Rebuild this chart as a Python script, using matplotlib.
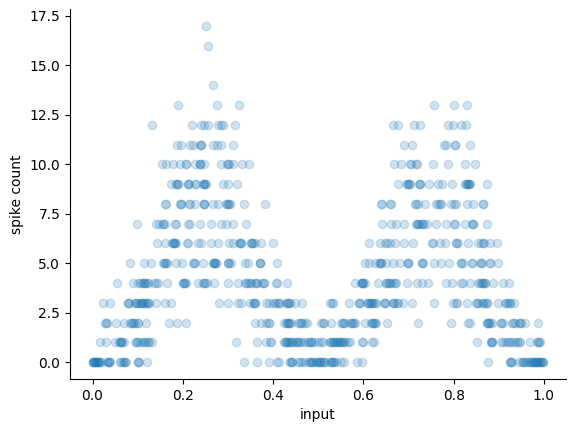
import matplotlib
matplotlib.use("Agg")
import matplotlib.pyplot as plt

# Stimulus values grouped by the spike count each trial produced
count_0 = [0.0, 0.001, 0.004, 0.007, 0.010, 0.013, 0.016, 0.019, 0.034, 0.036, 0.038, 0.060, 0.067, 0.070, 0.075, 0.101, 0.104, 0.121,
           0.000, 0.003, 0.006, 0.009, 0.012, 0.015, 0.032, 0.036, 0.064, 0.072, 0.100,
           0.335, 0.364, 0.391, 0.409, 0.413, 0.437, 0.443, 0.463, 0.481, 0.485, 0.489, 0.503, 0.507, 0.511, 0.515, 0.529, 0.533, 0.551, 0.558, 0.585, 0.596,
           0.438, 0.442, 0.455, 0.460, 0.470, 0.480, 0.487, 0.495, 0.500, 0.498, 0.505, 0.512, 0.525, 0.530, 0.535, 0.540,
           0.877, 0.925, 0.928, 0.951, 0.954, 0.965, 0.973, 0.977, 0.980, 0.984, 0.988, 0.992, 0.995, 0.999,
           0.925, 0.930, 0.945, 0.955, 0.960, 0.968, 0.972, 0.975, 0.980, 0.985, 0.990, 0.993, 0.997]
count_1 = [0.016, 0.029, 0.049, 0.060, 0.063, 0.066, 0.095, 0.099, 0.112, 0.123, 0.132,
           0.058, 0.062, 0.070, 0.098, 0.105, 0.115, 0.118, 0.125,
           0.318, 0.364, 0.385, 0.393, 0.396, 0.426, 0.429, 0.433, 0.441, 0.452, 0.463, 0.481, 0.485, 0.500,
           0.425, 0.430, 0.435, 0.440, 0.445, 0.450, 0.455, 0.460, 0.470, 0.478, 0.483, 0.490,
           0.507, 0.511, 0.525, 0.533, 0.536, 0.540, 0.544, 0.548, 0.555, 0.570, 0.596, 0.599, 0.623,
           0.525, 0.530, 0.540, 0.545, 0.550, 0.555, 0.560, 0.565, 0.620,
           0.852, 0.882, 0.886, 0.906, 0.917, 0.925, 0.936, 0.947, 0.969, 0.987, 0.991,
           0.882, 0.885, 0.910, 0.920, 0.930, 0.940, 0.945, 0.985, 0.990]
count_2 = [0.027, 0.032, 0.052, 0.069, 0.082, 0.089, 0.101, 0.119, 0.169, 0.187, 0.208,
           0.030, 0.085, 0.090, 0.095, 0.100,
           0.361, 0.374, 0.385, 0.392, 0.429, 0.432, 0.435, 0.459, 0.462, 0.470, 0.507,
           0.390, 0.425, 0.430, 0.436, 0.440, 0.455, 0.465, 0.475,
           0.511, 0.529, 0.551, 0.555, 0.574, 0.581, 0.603, 0.618, 0.621, 0.625, 0.653, 0.721,
           0.512, 0.555, 0.560, 0.570, 0.575, 0.580, 0.620, 0.623, 0.628,
           0.795, 0.832, 0.836, 0.873, 0.876, 0.880, 0.906, 0.932, 0.947, 0.958, 0.987,
           0.873, 0.878, 0.885, 0.905, 0.910, 0.930, 0.935, 0.945, 0.950]
count_3 = [0.023, 0.039, 0.078, 0.093, 0.101, 0.108, 0.115, 0.123, 0.141, 0.160, 0.174,
           0.078, 0.080, 0.095, 0.098, 0.105, 0.110, 0.112, 0.118, 0.120, 0.125,
           0.280, 0.300, 0.322, 0.330, 0.348, 0.359, 0.385, 0.400, 0.411, 0.430, 0.437, 0.448, 0.465,
           0.355, 0.357, 0.360, 0.428, 0.432, 0.435, 0.390, 0.405, 0.410, 0.415,
           0.527, 0.533, 0.569, 0.591, 0.611, 0.615, 0.622, 0.629, 0.647, 0.666, 0.677, 0.688, 0.707, 0.757,
           0.530, 0.590, 0.593, 0.608, 0.613, 0.618, 0.620, 0.625, 0.648, 0.645, 0.665, 0.668, 0.675,
           0.799, 0.808, 0.829, 0.851, 0.862, 0.874, 0.899, 0.914, 0.925, 0.934,
           0.805, 0.850, 0.855, 0.865, 0.870, 0.875, 0.915, 0.920, 0.925]
count_4 = [0.055, 0.089, 0.101, 0.113, 0.117, 0.123, 0.137, 0.145, 0.165, 0.200, 0.205,
           0.105, 0.110, 0.115, 0.120, 0.140, 0.200, 0.203, 0.207,
           0.234, 0.248, 0.254, 0.268, 0.300, 0.322, 0.341, 0.348, 0.363, 0.379, 0.407, 0.431,
           0.250, 0.245, 0.338, 0.345, 0.350, 0.360, 0.365, 0.375, 0.380, 0.408,
           0.582, 0.596, 0.599, 0.603, 0.633, 0.650, 0.659, 0.670, 0.696, 0.718, 0.729, 0.744,
           0.595, 0.598, 0.600, 0.650, 0.655, 0.660, 0.665, 0.672,
           0.783, 0.796, 0.817, 0.836, 0.858, 0.865, 0.869, 0.888, 0.909, 0.923,
           0.820, 0.855, 0.860, 0.865, 0.870]
count_5 = [0.083, 0.115, 0.130, 0.156, 0.163, 0.184, 0.199, 0.224, 0.245, 0.267, 0.270, 0.273, 0.300, 0.307, 0.337, 0.344, 0.370, 0.409,
           0.158, 0.160, 0.165, 0.222, 0.226, 0.268, 0.270, 0.274, 0.300, 0.303, 0.370, 0.372,
           0.603, 0.613, 0.625, 0.636, 0.639, 0.651, 0.666, 0.681, 0.699, 0.729, 0.733, 0.756,
           0.634, 0.638, 0.698, 0.700, 0.730,
           0.771, 0.789, 0.817, 0.840, 0.860, 0.880, 0.899,
           0.816, 0.820, 0.840, 0.858, 0.862, 0.880]
count_6 = [0.143, 0.160, 0.175, 0.180, 0.182, 0.211, 0.233, 0.241, 0.263, 0.278, 0.302, 0.311, 0.326, 0.329, 0.352, 0.355, 0.359, 0.374, 0.400,
           0.178, 0.180, 0.184, 0.210, 0.325, 0.328, 0.350, 0.353,
           0.613, 0.636, 0.647, 0.659, 0.670, 0.690, 0.709, 0.751, 0.755, 0.769, 0.781, 0.806, 0.810, 0.832, 0.854, 0.865, 0.880, 0.895,
           0.653, 0.806, 0.860, 0.868]
count_7 = [0.098, 0.141, 0.147, 0.155, 0.156, 0.160, 0.182, 0.186, 0.211, 0.215, 0.237, 0.263, 0.285, 0.296, 0.311, 0.339,
           0.642, 0.662, 0.673, 0.690, 0.716, 0.718, 0.722, 0.724, 0.729, 0.730, 0.735, 0.740, 0.762, 0.784, 0.800, 0.803, 0.825, 0.840, 0.842, 0.843, 0.873]
count_8 = [0.160, 0.162, 0.194, 0.195, 0.197, 0.214, 0.217, 0.226, 0.246, 0.247, 0.248, 0.267, 0.278, 0.296, 0.298, 0.300, 0.302, 0.304, 0.336, 0.381,
           0.640, 0.642, 0.660, 0.662, 0.714, 0.716, 0.720, 0.736, 0.762, 0.765, 0.770, 0.773, 0.795, 0.800, 0.805, 0.829, 0.843, 0.864, 0.866]
count_9 = [0.174, 0.184, 0.186, 0.189, 0.190, 0.211, 0.212, 0.214, 0.226, 0.229, 0.245, 0.246, 0.248, 0.250, 0.252, 0.290, 0.300, 0.319,
           0.677, 0.695, 0.699, 0.700, 0.701, 0.703, 0.724, 0.725, 0.726, 0.746, 0.766, 0.775, 0.797, 0.825, 0.827, 0.830, 0.832, 0.834, 0.835, 0.836, 0.873]
count_10 = [0.153, 0.163, 0.178, 0.193, 0.206, 0.208, 0.226, 0.237, 0.238, 0.239, 0.248, 0.285, 0.298, 0.300, 0.302, 0.311, 0.331, 0.347,
            0.667, 0.684, 0.703, 0.705, 0.716, 0.719, 0.755, 0.788, 0.825, 0.847]
count_11 = [0.187, 0.197, 0.215, 0.222, 0.239, 0.240, 0.241, 0.267, 0.276, 0.285, 0.311,
            0.690, 0.707, 0.778, 0.782, 0.803, 0.804, 0.837]
count_12 = [0.132, 0.220, 0.241, 0.248, 0.256, 0.278, 0.285, 0.289, 0.316,
            0.666, 0.677, 0.712, 0.725, 0.788, 0.799, 0.817, 0.827]
count_13 = [0.189, 0.276, 0.324, 0.757, 0.801, 0.830]
count_14 = [0.267]
count_16 = [0.256]
count_17 = [0.251]

spike_rows = {0: count_0, 1: count_1, 2: count_2, 3: count_3, 4: count_4, 5: count_5,
              6: count_6, 7: count_7, 8: count_8, 9: count_9, 10: count_10, 11: count_11,
              12: count_12, 13: count_13, 14: count_14, 16: count_16, 17: count_17}

stimulus = [x for row in spike_rows.values() for x in row]
spikes = [n for n, row in spike_rows.items() for _ in row]

fig = plt.figure(figsize=(5.76, 4.32), dpi=100)
ax = fig.add_axes([70 / 576, 1 - 379 / 432, 496 / 576, 370 / 432])
ax.plot(stimulus, spikes, "o", alpha=0.2)
ax.set_xlabel("input")
ax.set_ylabel("spike count")
ax.spines["top"].set_visible(False)
ax.spines["right"].set_visible(False)
fig.savefig("out.png", dpi=100)
